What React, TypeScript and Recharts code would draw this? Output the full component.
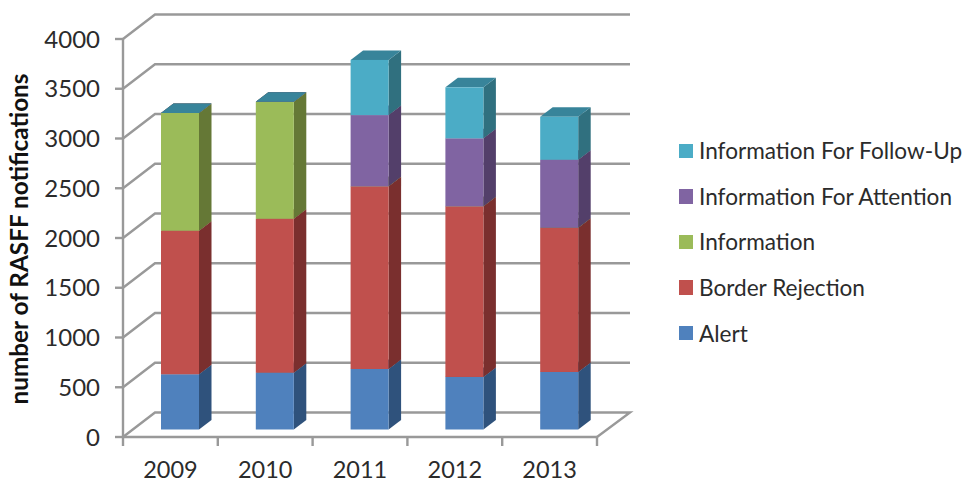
import React from "react";
import { BarChart, Bar, XAxis, YAxis, CartesianGrid, Legend, Label } from "recharts";

const years = ["2009", "2010", "2011", "2012", "2013"];
const alert = [555, 571, 608, 528, 578];
const borderRejection = [1443, 1547, 1836, 1715, 1450];
const information = [1183, 1177, 0, 0, 0];
const informationForAttention = [0, 0, 716, 683, 683];
const informationForFollowUp = [0, 0, 554, 513, 432];
const yTicks = [0, 500, 1000, 1500, 2000, 2500, 3000, 3500, 4000];

const rows = years.map((year, i) => ({
  year,
  alert: alert[i],
  borderRejection: borderRejection[i],
  information: information[i],
  informationForAttention: informationForAttention[i],
  informationForFollowUp: informationForFollowUp[i],
}));

const FONT = "Lato, sans-serif";
const TEXT = "#2b2b2b";
const AXIS = "#999999";

// Oblique projection of the chart box: the walls recede by this much.
const WALL_DX = 32;
const WALL_DY = 24.5;
// Bars stand midway through the floor, and are this deep themselves.
const BAR_SHIFT_X = 10;
const BAR_SHIFT_Y = 7.5;
const BAR_DX = 12.5;
const BAR_DY = 9.5;
const BAND = 94.8;

// A stacked segment drawn as a box with front, side and top faces.
const boxShape = (side: string, top: string) => (props: any) => {
  const x = props.x + BAR_SHIFT_X;
  const y = props.y - BAR_SHIFT_Y;
  const { width: w, height: h, fill } = props;
  return (
    <g>
      <path
        d={`M${x + w} ${y}L${x + w + BAR_DX} ${y - BAR_DY}V${y + h - BAR_DY}L${x + w} ${y + h}Z`}
        fill={side}
      />
      <path
        d={`M${x} ${y}L${x + BAR_DX} ${y - BAR_DY}H${x + w + BAR_DX}L${x + w} ${y}Z`}
        fill={top}
      />
      <rect x={x} y={y} width={w} height={h} fill={fill} />
    </g>
  );
};

// Each gridline runs up the side wall and along the back wall; the one at zero also closes the floor.
const wallLine = (props: any) => {
  const { x1, x2, y1 } = props;
  const isFloor = Math.abs(y1 - 437) < 1;
  const back = y1 - WALL_DY;
  const closing = isFloor ? `L${x2} ${y1}` : "";
  return (
    <path
      key={`wall-${y1}`}
      d={`M${x1} ${y1}L${x1 + WALL_DX} ${back}H${x2 + WALL_DX + 1}${closing}`}
      fill="none"
      stroke={AXIS}
      strokeWidth={2.4}
    />
  );
};

const yearTick = (props: any) => {
  const { x, payload, index } = props;
  const left = x - BAND / 2;
  const right = x + BAND / 2;
  return (
    <g>
      <line x1={left} x2={left} y1={437} y2={446} stroke={AXIS} strokeWidth={2.4} />
      {index === years.length - 1 && (
        <line x1={right} x2={right} y1={437} y2={446} stroke={AXIS} strokeWidth={2.4} />
      )}
      <text x={x} y={478} textAnchor="middle" fontFamily={FONT} fontSize={23.5} fill={TEXT}>
        {payload.value}
      </text>
    </g>
  );
};

const legendContent = ({ payload }: any) => (
  <div style={{ fontFamily: FONT, fontSize: 22.6, color: TEXT }}>
    {[...payload].reverse().map((entry: any) => (
      <div key={entry.value} style={{ height: 45.6, display: "flex", alignItems: "center" }}>
        <span style={{ width: 14.5, height: 14.5, background: entry.color, marginRight: 6 }} />
        <span style={{ whiteSpace: "nowrap" }}>{entry.value}</span>
      </div>
    ))}
  </div>
);

export default function App() {
  return (
    <div style={{ position: "absolute", left: 0, top: 0 }}>
      <BarChart
        width={965}
        height={483}
        data={rows}
        barSize={38}
        margin={{ top: 39, right: 368, bottom: 0, left: 53 }}
      >
        <CartesianGrid horizontal={wallLine} vertical={false} />
        <XAxis
          dataKey="year"
          height={46}
          axisLine={{ stroke: AXIS, strokeWidth: 2.4 }}
          tickLine={false}
          tick={yearTick}
          interval={0}
        />
        <YAxis
          width={70}
          domain={[0, 4000]}
          ticks={yTicks}
          interval={0}
          axisLine={{ stroke: AXIS, strokeWidth: 2.4 }}
          tickLine={{ stroke: AXIS, strokeWidth: 2.4 }}
          tickSize={8}
          tickMargin={15}
          tick={{ fontFamily: FONT, fontSize: 24, fill: TEXT }}
        >
          <Label
            value="number of RASFF notifications"
            angle={-90}
            position="insideLeft"
            dx={-39}
            dy={1}
            style={{ fontFamily: FONT, fontSize: 24.3, fontWeight: 700, fill: "#111", textAnchor: "middle" }}
          />
        </YAxis>
        <Bar dataKey="alert" name="Alert" stackId="a" fill="#4f81bd" shape={boxShape("#2f527c", "#2f527c")} isAnimationActive={false} />
        <Bar dataKey="borderRejection" name="Border Rejection" stackId="a" fill="#c0504d" shape={boxShape("#7a2f2e", "#8a3a38")} isAnimationActive={false} />
        <Bar dataKey="information" name="Information" stackId="a" fill="#9bbb59" shape={boxShape("#657836", "#6f853f")} isAnimationActive={false} />
        <Bar dataKey="informationForAttention" name="Information For Attention" stackId="a" fill="#8064a2" shape={boxShape("#533f6a", "#5c4776")} isAnimationActive={false} />
        <Bar dataKey="informationForFollowUp" name="Information For Follow-Up" stackId="a" fill="#4bacc6" shape={boxShape("#30707f", "#38849a")} isAnimationActive={false} />
        <Legend
          layout="vertical"
          align="center"
          verticalAlign="middle"
          content={legendContent}
          wrapperStyle={{ left: 678.5, top: 128, width: 287 }}
        />
      </BarChart>
    </div>
  );
}
